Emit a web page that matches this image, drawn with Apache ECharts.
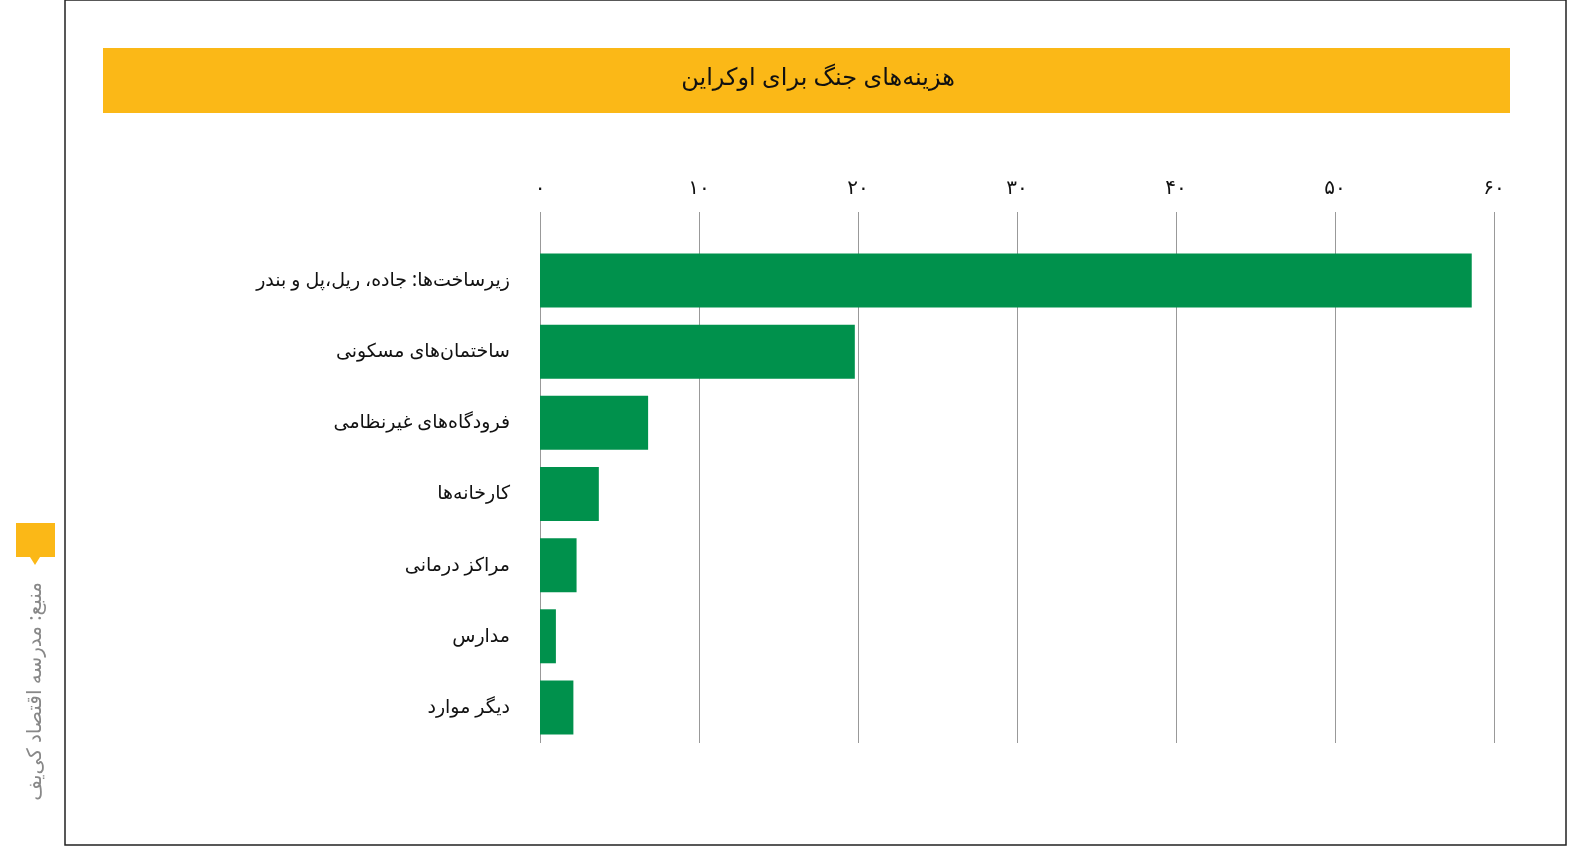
<!DOCTYPE html>
<html><head><meta charset="utf-8">
<script src="https://cdn.jsdelivr.net/npm/echarts@6/dist/echarts.min.js"></script>
<style>html,body{margin:0;padding:0;background:#fff}#c{width:1575px;height:850px}</style>
</head><body><div id="c"></div>
<script>
const categories = ['زیرساخت‌ها: جاده، ریل،پل و بندر','ساختمان‌های مسکونی','فرودگاه‌های غیرنظامی','کارخانه‌ها','مراکز درمانی','مدارس','دیگر موارد'];
const values = [58.6, 19.8, 6.8, 3.7, 2.3, 1.0, 2.1];
const titleText = 'هزینه‌های جنگ برای اوکراین';
const sourceText = 'منبع: مدرسه اقتصاد کی‌یف';
const fa = s => String(s).replace(/\d/g, d => '۰۱۲۳۴۵۶۷۸۹'[d]);
const font = "'Noto Sans', 'DejaVu Sans', sans-serif";
const chart = echarts.init(document.getElementById('c'));
const split = {lineStyle: {color: '#999', width: 1}};
chart.setOption({
  animation: false,
  grid: [{left: 540, right: 81, top: 245, bottom: 107}, {left: 540, right: 81, top: 212, height: 33}],
  xAxis: [
    {type: 'value', min: 0, max: 60, interval: 10, gridIndex: 0,
      axisLine: {show: false}, axisTick: {show: false}, axisLabel: {show: false}, splitLine: split},
    {type: 'value', min: 0, max: 60, interval: 10, gridIndex: 1, position: 'top',
      axisLine: {show: false}, axisTick: {show: false},
      axisLabel: {formatter: v => fa(v), fontSize: 20, color: '#111', margin: 14, fontFamily: font},
      splitLine: split}
  ],
  yAxis: [
    {type: 'category', data: categories, inverse: true, gridIndex: 0,
      axisLine: {show: false}, axisTick: {show: false},
      axisLabel: {fontSize: 19, color: '#111', margin: 30, fontFamily: font}},
    {type: 'category', data: [], gridIndex: 1, show: false}
  ],
  series: [{type: 'bar', data: values, barWidth: 54, itemStyle: {color: '#00914c'}}],
  graphic: [
    {type: 'rect', shape: {x: 65, y: 0, width: 1501, height: 845}, style: {fill: 'none', stroke: '#222', lineWidth: 1.5}, z: -10},
    {type: 'rect', shape: {x: 103, y: 48, width: 1407, height: 65}, style: {fill: '#fbb817'}},
    {type: 'text', x: 818, y: 78, style: {text: titleText, fontSize: 24, fill: '#111', align: 'center', verticalAlign: 'middle', fontFamily: font}},
    {type: 'polygon', shape: {points: [[16,523],[55,523],[55,557],[40,557],[35,565],[30,557],[16,557]]}, style: {fill: '#fbb817'}},
    {type: 'text', x: 35, y: 582, rotation: Math.PI/2, style: {text: sourceText, fontSize: 20, fill: '#888', align: 'right', verticalAlign: 'middle', fontFamily: font}}
  ]
});
</script></body></html>
